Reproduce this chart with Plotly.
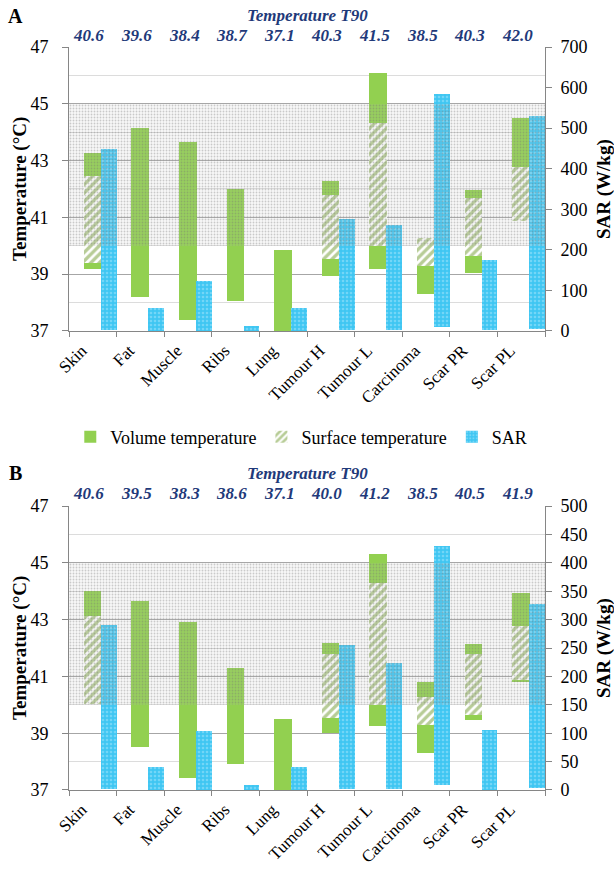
import plotly.graph_objects as go

# ---------------- data ----------------
categories = ["Skin", "Fat", "Muscle", "Ribs", "Lung", "Tumour H", "Tumour L",
              "Carcinoma", "Scar PR", "Scar PL"]

# Panel A
A_vol_min = [39.2, 38.2, 37.4, 38.05, 37.0, 38.95, 39.17, 38.3, 39.03, 40.88]
A_vol_max = [43.26, 44.16, 43.67, 41.99, 39.84, 42.29, 46.07, 40.27, 41.96, 44.51]
A_surf_min = [39.38, None, None, None, None, 39.54, 40.0, 39.30, 39.65, 40.88]
A_surf_max = [42.47, None, None, None, None, 41.79, 44.33, 40.27, 41.67, 42.79]
A_sar_min = [2, 0, 0, 0, 0, 3, 3, 11, 2, 5]
A_sar_max = [449, 57, 124, 12, 57, 276, 261, 583, 175, 530]
A_t90 = ["40.6", "39.6", "38.4", "38.7", "37.1", "40.3", "41.5", "38.5", "40.3", "42.0"]

# Panel B
B_vol_min = [40.02, 38.52, 37.43, 37.91, 37.0, 38.99, 39.26, 38.31, 39.48, 40.79]
B_vol_max = [44.0, 43.64, 42.93, 41.29, 39.50, 42.16, 45.32, 40.79, 42.13, 43.95]
B_surf_min = [40.02, None, None, None, None, 39.54, 39.98, 39.28, 39.65, 40.87]
B_surf_max = [43.13, None, None, None, None, 41.80, 44.30, 40.26, 41.80, 42.78]
B_sar_min = [2, 0, 0, 0, 0, 2, 2, 9, 0, 3]
B_sar_max = [290, 41, 104, 9, 41, 256, 223, 429, 106, 327]
B_t90 = ["40.6", "39.5", "38.3", "38.6", "37.1", "40.0", "41.2", "38.5", "40.5", "41.9"]

RANGE_LOW, RANGE_HIGH = 40, 45
T_RANGE = [37, 47]
A_SAR_RANGE = [0, 700]
B_SAR_RANGE = [0, 500]

# ---------------- styles ----------------
FONT = "Liberation Serif"
GREEN = "#92d050"
HATCH_GREEN = "#6f9a2e"
BLUE = "#3fc6f2"
BLUE_DOT = "#a8e6fb"
NAVY = "#1f3a7a"
AXIS_GREY = "#868686"

def span(lo, hi):
    return [None if (a is None or b is None) else b - a for a, b in zip(lo, hi)]

fig = go.Figure()

def add_panel(xref, yp, ys, yr, vmin, vmax, smin, smax, sarmin, sarmax, legend):
    fig.add_trace(go.Bar(
        x=categories, base=vmin, y=span(vmin, vmax), xaxis=xref, yaxis=yp,
        name="Volume temperature", marker=dict(color=GREEN, line=dict(width=0)),
        offset=-0.19, width=0.37, showlegend=legend, legendrank=1))
    fig.add_trace(go.Bar(
        x=categories, base=smin, y=span(smin, smax), xaxis=xref, yaxis=yp,
        name="Surface temperature",
        marker=dict(color="white", line=dict(width=0),
                    pattern=dict(shape="/", fgcolor=HATCH_GREEN, bgcolor="white",
                                 size=6, solidity=0.55)),
        offset=-0.19, width=0.37, showlegend=legend, legendrank=2))
    fig.add_trace(go.Bar(
        x=categories, base=sarmin, y=span(sarmin, sarmax), xaxis=xref, yaxis=ys,
        name="SAR",
        marker=dict(color=BLUE, line=dict(width=0),
                    pattern=dict(shape=".", fgcolor=BLUE_DOT, bgcolor=BLUE,
                                 size=4, solidity=0.35)),
        offset=0.17, width=0.33, showlegend=legend, legendrank=3))
    fig.add_trace(go.Bar(
        x=categories, base=[RANGE_LOW] * len(categories),
        y=[RANGE_HIGH - RANGE_LOW] * len(categories), xaxis=xref, yaxis=yr,
        width=1.0, marker=dict(color="rgba(0,0,0,0)", line=dict(width=0),
                               pattern=dict(shape=".", fgcolor="rgba(110,110,110,0.7)",
                                            bgcolor="rgba(200,200,200,0.12)",
                                            size=3, solidity=0.3)),
        showlegend=False, hoverinfo="skip"))

add_panel("x", "y", "y2", "y3", A_vol_min, A_vol_max, A_surf_min, A_surf_max,
          A_sar_min, A_sar_max, True)
add_panel("x2", "y4", "y5", "y6", B_vol_min, B_vol_max, B_surf_min, B_surf_max,
          B_sar_min, B_sar_max, False)

tick_font = dict(family=FONT, size=18, color="black")
title_font = dict(family=FONT, size=19, color="black")

def xax(anchor):
    return dict(anchor=anchor, domain=[0, 1], type="category", automargin=False,
                tickangle=-45, tickfont=dict(family=FONT, size=17, color="black"),
                ticklabelshift=-11, ticklabelstandoff=2,
                showline=True, linecolor=AXIS_GREY, linewidth=1,
                ticks="outside", ticklen=5, tickcolor=AXIS_GREY, tickson="boundaries",
                showgrid=False, zeroline=False, fixedrange=True)

def ylft(anchor, domain):
    return dict(anchor=anchor, domain=domain, range=T_RANGE, tick0=37, dtick=2,
                automargin=False, tickfont=tick_font, showline=True, linecolor=AXIS_GREY,
                ticks="outside", ticklen=6, tickcolor=AXIS_GREY, ticklabelstandoff=10,
                showgrid=True, gridcolor="#a6a6a6", gridwidth=1,
                minor=dict(dtick=1, tick0=37, showgrid=True, gridcolor="#dcdcdc",
                           gridwidth=1),
                zeroline=False)

def yrgt(anchor, over, rng, dt):
    return dict(anchor=anchor, overlaying=over, side="right", range=rng, dtick=dt,
                automargin=False, tickfont=tick_font, showline=True, linecolor=AXIS_GREY,
                ticks="outside", ticklen=6, tickcolor=AXIS_GREY, ticklabelstandoff=5,
                showgrid=False, zeroline=False)

def yhid(anchor, over):
    return dict(anchor=anchor, overlaying=over, range=T_RANGE, visible=False,
                automargin=False, showgrid=False, zeroline=False)

DOM_A = [0.6178, 1.0]
DOM_B = [0.0, 0.3822]

annotations = []
def anno(**kw):
    kw.setdefault("showarrow", False)
    kw.setdefault("xanchor", "center")
    kw.setdefault("yanchor", "middle")
    annotations.append(kw)

def panel_annos(label, y_label, y_title, y_vals, xref, vals, dom):
    anno(text="<b>%s</b>" % label, xref="paper", yref="paper", x=-0.113, y=y_label,
         font=dict(family=FONT, size=20, color="black"))
    anno(text="<b><i>Temperature T90</i></b>", xref="paper", yref="paper",
         x=0.5, y=y_title, font=dict(family=FONT, size=17, color=NAVY))
    for c, v in zip(categories, vals):
        anno(text="<b><i>%s</i></b>" % v, xref=xref, yref="paper", x=c, y=y_vals,
             xshift=-4, font=dict(family=FONT, size=17, color=NAVY))
    mid = (dom[0] + dom[1]) / 2
    anno(text="<b>Temperature (°C)</b>", xref="paper", yref="paper",
         x=-0.103, y=mid, textangle=-90, font=title_font)
    anno(text="<b>SAR (W/kg)</b>", xref="paper", yref="paper",
         x=1.124, y=mid, textangle=-90, font=title_font)

panel_annos("A", 1.0417, 1.0430, 1.0161, "x", A_t90, DOM_A)
panel_annos("B", 0.4266, 0.4266, 0.3997, "x2", B_t90, DOM_B)

fig.update_layout(
    width=614, height=870,
    margin=dict(l=69, r=69, t=47, b=80, autoexpand=False),
    paper_bgcolor="white", plot_bgcolor="white",
    barmode="overlay", bargap=0,
    font=dict(family=FONT, color="black"),
    xaxis=xax("y"), xaxis2=xax("y4"),
    yaxis=ylft("x", DOM_A), yaxis2=yrgt("x", "y", A_SAR_RANGE, 100), yaxis3=yhid("x", "y"),
    yaxis4=ylft("x2", DOM_B), yaxis5=yrgt("x2", "y4", B_SAR_RANGE, 50), yaxis6=yhid("x2", "y4"),
    legend=dict(orientation="h", x=0.488, xanchor="center", y=0.475, yanchor="middle",
                font=dict(family=FONT, size=18, color="black"), itemwidth=30,
                traceorder="normal", bgcolor="rgba(0,0,0,0)"),
    annotations=annotations,
    showlegend=True,
)

fig.write_html("out.html", config={"displayModeBar": False},
               post_script="document.body.style.margin='0';document.body.style.padding='0';")
